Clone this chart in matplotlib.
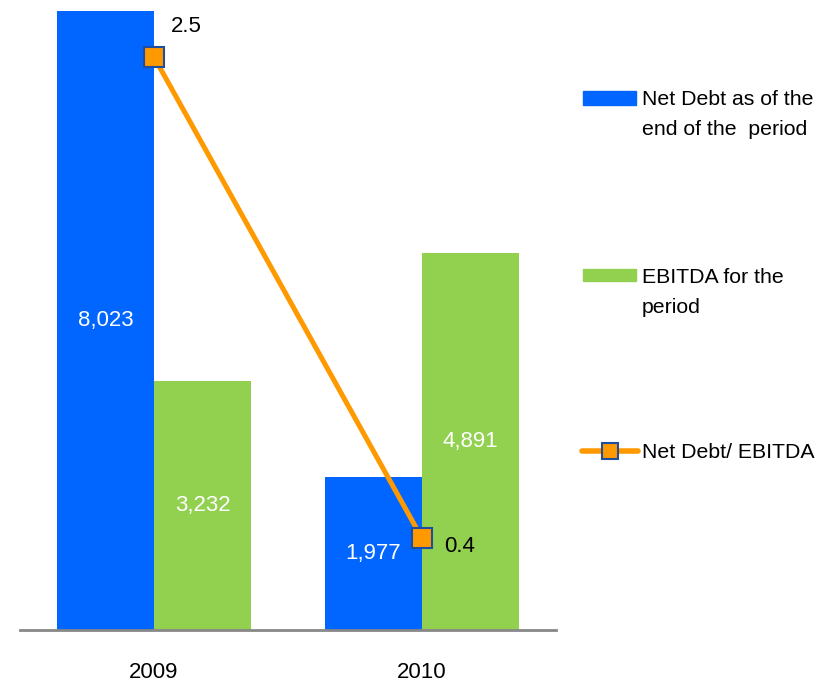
import matplotlib
matplotlib.use("Agg")
import matplotlib.pyplot as plt
from matplotlib.patches import Rectangle
from matplotlib.lines import Line2D

plt.rcParams['font.family'] = ['Liberation Sans', 'DejaVu Sans']

categories = ["2009", "2010"]
net_debt = [8023, 1977]
ebitda = [3232, 4891]
ratio = [2.5, 0.4]
series_names = ["Net Debt as of the\nend of the  period", "EBITDA for the\nperiod", "Net Debt/ EBITDA"]

BLUE = "#0066FF"
GREEN = "#92D050"
ORANGE = "#FF9900"
EDGE = "#1F4E9F"

W, H = 821, 684
fig = plt.figure(figsize=(W / 100, H / 100), dpi=100)
ax = fig.add_axes([20 / W, 54 / H, 536 / W, 630 / H])
ax2 = ax.twinx()
ax.set_zorder(1)
ax2.set_zorder(2)
ax.patch.set_visible(False)

x = list(range(len(categories)))
bw = 0.362
b1 = ax.bar([i - bw / 2 for i in x], net_debt, width=bw, color=BLUE, zorder=2)
b2 = ax.bar([i + bw / 2 for i in x], ebitda, width=bw, color=GREEN, zorder=2)
ax.bar_label(b1, labels=[f"{v:,}" for v in net_debt], label_type='center', color='white', fontsize=16)
ax.bar_label(b2, labels=[f"{v:,}" for v in ebitda], label_type='center', color='white', fontsize=16)

ax.set_xlim(-0.5, 1.5)
ax.set_ylim(0, 8166)
ax2.set_ylim(0, 2.749)

ax2.plot(x, ratio, color=ORANGE, lw=3.6, marker='s', markersize=14, markerfacecolor=ORANGE,
         markeredgecolor=EDGE, markeredgewidth=1.5, zorder=3)
offsets = [(23, 22), (27, -6)]
for xi, v, off in zip(x, ratio, offsets):
    ax2.annotate(f"{v}", (xi, v), xytext=off, textcoords='offset points', ha='center', va='center',
                 fontsize=16, color='black')

for a in (ax, ax2):
    for s in ('top', 'right', 'left'):
        a.spines[s].set_visible(False)
    a.set_yticks([])
ax2.spines['bottom'].set_visible(False)
ax.spines['bottom'].set_color('#888888')
ax.spines['bottom'].set_linewidth(2)
ax.set_xticks(x)
ax.set_xticklabels(categories, fontsize=16)
ax.tick_params(axis='x', length=0, pad=23)

# legend drawn in figure pixel coordinates
def fy(ypix):
    return 1 - ypix / H

fig.patches.append(Rectangle((583 / W, fy(105)), 53 / W, 14 / H, transform=fig.transFigure,
                             color=BLUE, figure=fig))
fig.patches.append(Rectangle((583 / W, fy(281)), 53 / W, 12 / H, transform=fig.transFigure,
                             color=GREEN, figure=fig))
fig.lines.append(Line2D([582 / W, 638 / W], [fy(451), fy(451)], transform=fig.transFigure,
                        color=ORANGE, lw=4, solid_capstyle='round', figure=fig))
fig.lines.append(Line2D([610 / W], [fy(451)], transform=fig.transFigure, marker='s', markersize=12,
                        markerfacecolor=ORANGE, markeredgecolor=EDGE, markeredgewidth=1.5, figure=fig))

tops = [90, 268, 443]
for name, t in zip(series_names, tops):
    fig.text(642 / W, fy(t), name, ha='left', va='top', fontsize=15.3, linespacing=1.72)

fig.savefig("out.png", dpi=100)
